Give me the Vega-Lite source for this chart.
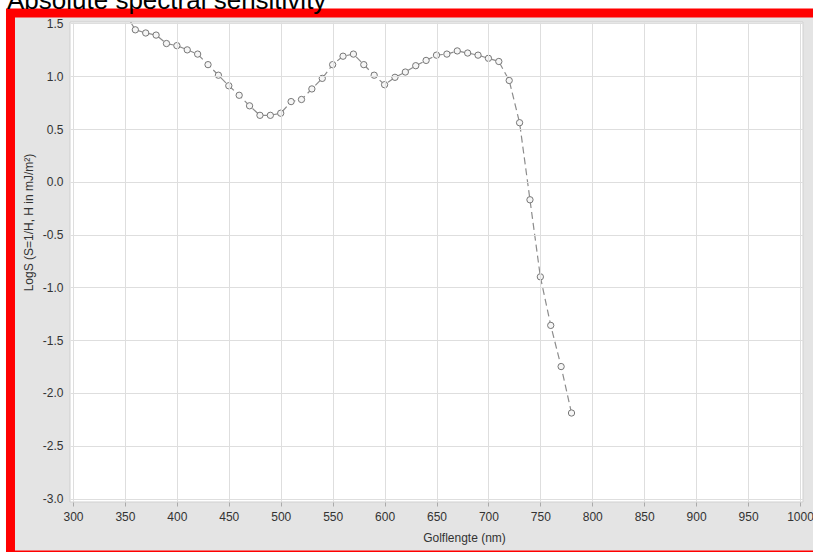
{
  "$schema": "https://vega.github.io/schema/vega-lite/v6.json",
  "width": 733,
  "height": 480,
  "autosize": {"type": "none"},
  "padding": {"left": 70, "top": 22, "right": 10, "bottom": 50},
  "background": "#ffffff",
  "title": {
    "text": "Absolute spectral sensitivity",
    "anchor": "start",
    "frame": "group",
    "orient": "top",
    "font": "Liberation Sans",
    "fontSize": 26,
    "fontWeight": "normal",
    "color": "#000000",
    "baseline": "alphabetic",
    "offset": 2,
    "dx": -63,
    "dy": 28
  },
  "config": {
    "view": {"fill": "#ffffff", "stroke": "#cfcfcf", "strokeWidth": 1},
    "font": "Liberation Sans"
  },
  "data": {
    "values": [
      {"nm": 350, "logS": 1.60},
      {"nm": 360, "logS": 1.44},
      {"nm": 370, "logS": 1.41},
      {"nm": 380, "logS": 1.39},
      {"nm": 390, "logS": 1.31},
      {"nm": 400, "logS": 1.29},
      {"nm": 410, "logS": 1.25},
      {"nm": 420, "logS": 1.21},
      {"nm": 430, "logS": 1.11},
      {"nm": 440, "logS": 1.01},
      {"nm": 450, "logS": 0.91},
      {"nm": 460, "logS": 0.82},
      {"nm": 470, "logS": 0.72},
      {"nm": 480, "logS": 0.63},
      {"nm": 490, "logS": 0.63},
      {"nm": 500, "logS": 0.65},
      {"nm": 510, "logS": 0.76},
      {"nm": 520, "logS": 0.78},
      {"nm": 530, "logS": 0.88},
      {"nm": 540, "logS": 0.98},
      {"nm": 550, "logS": 1.11},
      {"nm": 560, "logS": 1.19},
      {"nm": 570, "logS": 1.21},
      {"nm": 580, "logS": 1.11},
      {"nm": 590, "logS": 1.01},
      {"nm": 600, "logS": 0.92},
      {"nm": 610, "logS": 0.99},
      {"nm": 620, "logS": 1.04},
      {"nm": 630, "logS": 1.10},
      {"nm": 640, "logS": 1.15},
      {"nm": 650, "logS": 1.20},
      {"nm": 660, "logS": 1.21},
      {"nm": 670, "logS": 1.24},
      {"nm": 680, "logS": 1.22},
      {"nm": 690, "logS": 1.20},
      {"nm": 700, "logS": 1.17},
      {"nm": 710, "logS": 1.14},
      {"nm": 720, "logS": 0.96},
      {"nm": 730, "logS": 0.56},
      {"nm": 740, "logS": -0.17},
      {"nm": 750, "logS": -0.90},
      {"nm": 760, "logS": -1.36},
      {"nm": 770, "logS": -1.75},
      {"nm": 780, "logS": -2.19}
    ]
  },
  "layer": [
    {
      "data": {"values": [{"k": 1}]},
      "mark": {"type": "rect", "clip": false, "fill": "#e4e4e4", "stroke": "#ff0000", "strokeWidth": 9},
      "encoding": {
        "x": {"datum": 239.8, "type": "quantitative", "scale": {"domain": [297.1, 1002.9], "nice": false, "zero": false}},
        "x2": {"datum": 1028.9},
        "y": {"datum": 1.599, "type": "quantitative", "scale": {"domain": [-3.033, 1.514], "nice": false, "zero": false}},
        "y2": {"datum": -3.535}
      }
    },
    {
      "data": {"values": [{"k": 1}]},
      "mark": {"type": "rect", "clip": false, "fill": "#ffffff", "stroke": "#cfcfcf", "strokeWidth": 1},
      "encoding": {
        "x": {"datum": 297.1, "type": "quantitative"},
        "x2": {"datum": 1002.9},
        "y": {"datum": 1.514, "type": "quantitative"},
        "y2": {"datum": -3.033}
      }
    },
    {
      "encoding": {
        "x": {
          "field": "nm",
          "type": "quantitative",
          "axis": {
            "zindex": 1,
            "values": [300, 350, 400, 450, 500, 550, 600, 650, 700, 750, 800, 850, 900, 950, 1000],
            "format": "d",
            "title": "Golflengte (nm)",
            "titleX": 394,
            "titleY": 39,
            "titleAlign": "center",
            "titleBaseline": "alphabetic",
            "titleFont": "Liberation Sans",
            "titleFontSize": 12,
            "titleFontWeight": "normal",
            "titleColor": "#333333",
            "labelFont": "Liberation Sans",
            "labelFontSize": 12,
            "labelColor": "#333333",
            "labelPadding": 5,
            "labelFlush": false,
            "labelOverlap": false,
            "tickSize": 4,
            "tickColor": "#aaaaaa",
            "domain": false,
            "grid": true,
            "gridColor": "#dedede",
            "gridWidth": 1
          }
        },
        "y": {
          "field": "logS",
          "type": "quantitative",
          "axis": {
            "zindex": 1,
            "values": [-3, -2.5, -2, -1.5, -1, -0.5, 0, 0.5, 1, 1.5],
            "labelExpr": "replace(format(datum.value, '.1f'), '\u2212', '-')",
            "title": "LogS (S=1/H, H in mJ/m²)",
            "titleX": -42,
            "titleY": 200,
            "titleAngle": -90,
            "titleAlign": "center",
            "titleBaseline": "middle",
            "titleFont": "Liberation Sans",
            "titleFontSize": 12,
            "titleFontWeight": "normal",
            "titleColor": "#333333",
            "labelFont": "Liberation Sans",
            "labelFontSize": 12,
            "labelColor": "#333333",
            "labelPadding": 7,
            "labelFlush": false,
            "labelOverlap": false,
            "ticks": false,
            "domain": false,
            "grid": true,
            "gridColor": "#dedede",
            "gridWidth": 1
          }
        }
      },
      "layer": [
        {
          "mark": {"type": "line", "clip": true, "color": "#8c8c8c", "strokeWidth": 1.2, "strokeDash": [7, 4]}
        },
        {
          "transform": [{"filter": "datum.logS <= 1.514"}],
          "mark": {"type": "point", "clip": true, "shape": "circle", "size": 40, "filled": false, "fill": "#f6f6f6", "fillOpacity": 1, "stroke": "#777777", "strokeWidth": 1, "opacity": 1}
        }
      ]
    }
  ]
}
